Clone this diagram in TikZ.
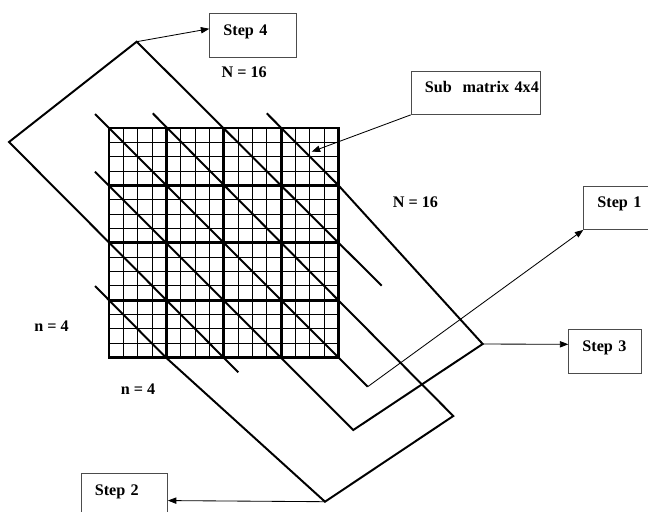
\documentclass[tikz,border=0pt]{standalone}
\usepackage{fontspec}
\setmainfont{Liberation Serif}
\usetikzlibrary{arrows.meta,calc}

\begin{document}
\begin{tikzpicture}[x=0.25mm,y=-0.25mm,>={Triangle[length=6pt,width=4.5pt]},font=\bfseries\fontsize{11.5}{13}\selectfont,
  stepbox/.style={draw=black!70,line width=0.7pt,anchor=north west,align=left,inner xsep=3.4mm,inner ysep=0pt,text height=5.4mm,text depth=5.4mm,text width=#1},
  diag/.style={line width=1.4pt},
  thinarrow/.style={->,line width=0.6pt}]
\useasboundingbox (0,0) rectangle (648,511); \clip (0,0) rectangle (648,511);
% 16x16 matrix, blocks of 4x4
\foreach \k in {0,...,16} {\draw[line width=0.7pt] (109+14.35*\k,128)--(109+14.35*\k,357.6); \draw[line width=0.7pt] (109,128+14.35*\k)--(338.6,128+14.35*\k);}
\foreach \k in {0,...,4} {\draw[line width=2.1pt,line cap=rect] (109+57.4*\k,128)--(109+57.4*\k,357.6); \draw[line width=2.1pt,line cap=rect] (109,128+57.4*\k)--(338.6,128+57.4*\k);}
% corners of the steps
\coordinate (v4) at (136.7,41.7); \coordinate (vl) at (9,142); \coordinate (v1) at (367.7,386.7); \coordinate (v3) at (482.7,344);
\coordinate (w3) at (353.3,430); \coordinate (v2) at (325,501.7); \coordinate (w2) at (453.3,416); \coordinate (sm) at (311.7,151.7);
\draw[diag] (381.7,285.7)--(v4)--(vl)--(238.3,372.3);
\draw[diag] (95,114)--(v1);
\draw[diag] (266.7,113.3)--(338.6,185.5)--(v3)--(w3)--(95,171.7);
\draw[diag] (152.7,113.3)--(w2)--(v2)--(166,357.6)--(95,286);
% boxes and labels
\node[stepbox=14.9mm] (s4) at (209.3,13.3) {Step 4};
\node[stepbox=25.6mm] (sub) at (410.7,70.7) {\mbox{Sub\,\, matrix 4x4}};
\node[stepbox=13.25mm] (s1) at (583.3,185.7) {Step 1};
\node[stepbox=11.35mm] (s3) at (568.3,329.3) {Step 3};
\node[stepbox=14.75mm] (s2) at (80.7,473.3) {Step 2};
\node (nt) at (244.2,72.5) {N = 16}; \node (nr) at (415.5,202) {N = 16};
\node (nl) at (51.5,326.5) {n = 4}; \node (nb) at (138,388.7) {n = 4};
\draw[thinarrow] (v4)--($(s4.north west)!0.35!(s4.south west)$);
\draw[thinarrow] (sub.south west)--(sm);
\draw[thinarrow] (v1)--(s1.south west);
\draw[thinarrow] (v3)--($(s3.north west)!0.34!(s3.south west)$);
\draw[thinarrow] (v2)--($(s2.north east)!0.617!(s2.south east)$);
\end{tikzpicture}
\end{document}
